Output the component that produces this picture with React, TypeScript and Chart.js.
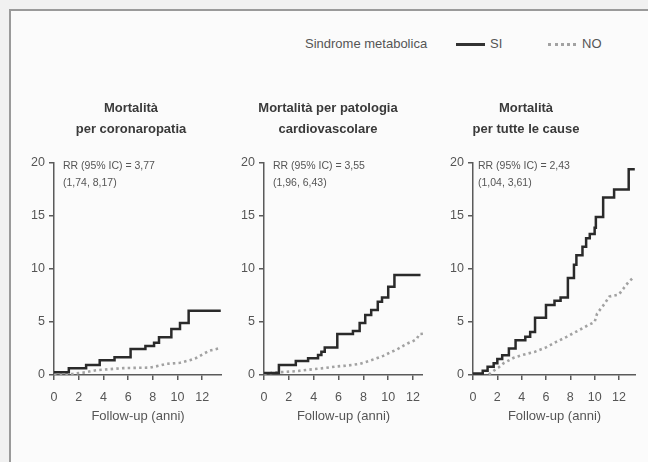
import React, { useEffect, useRef } from "react";
import { Chart, registerables } from "chart.js";

Chart.register(...registerables);

const FONT = '"Liberation Sans", Arial, Helvetica, sans-serif';

// ---- Data (years of follow-up, cumulative mortality %) ----
const coroSiT = [0, 1.2, 2.6, 3.7, 4.9, 6.2, 7.4, 8.1, 8.5, 9.5, 10.2, 10.9, 13.5];
const coroSiY = [0.25, 0.63, 0.94, 1.4, 1.67, 2.45, 2.74, 3.05, 3.55, 4.35, 4.9, 6.05, 6.05];
const coroNoT = [0, 1.5, 2.5, 3.4, 4.5, 5.6, 7.8, 8.6, 9.1, 10.2, 11.0, 11.5, 12.1, 12.6, 13.3];
const coroNoY = [0, 0.1, 0.25, 0.45, 0.55, 0.65, 0.7, 0.9, 1.05, 1.15, 1.4, 1.6, 2.0, 2.3, 2.5];

const cvSiT = [0, 1.2, 2.56, 3.55, 4.35, 4.62, 4.89, 5.9, 7.16, 7.7, 8.15, 8.63, 9.16, 9.5, 10.0, 10.5, 12.6];
const cvSiY = [0.2, 0.94, 1.32, 1.57, 1.89, 2.2, 2.6, 3.87, 4.15, 4.9, 5.66, 6.13, 6.9, 7.3, 8.33, 9.43, 9.43];
const cvNoT = [0, 1.0, 2.5, 3.6, 4.8, 5.8, 6.8, 7.7, 8.4, 9.0, 9.6, 10.1, 10.7, 11.2, 11.6, 12.0, 12.3, 12.5, 12.9];
const cvNoY = [0.1, 0.25, 0.35, 0.5, 0.65, 0.8, 0.9, 1.05, 1.3, 1.55, 1.8, 2.1, 2.4, 2.75, 3.0, 3.2, 3.4, 3.85, 3.9];

const allSiT = [0, 0.8, 1.2, 1.7, 2.0, 2.4, 2.95, 3.5, 4.3, 4.7, 5.1, 6.0, 6.7, 7.2, 7.8, 8.3, 8.5, 9.0, 9.3, 9.6, 10.0, 10.1, 10.7, 11.6, 12.8, 13.3];
const allSiY = [0.15, 0.4, 0.78, 1.1, 1.5, 1.87, 2.5, 3.28, 3.6, 4.06, 5.4, 6.6, 7.0, 7.3, 9.15, 10.4, 11.3, 12.1, 12.9, 13.3, 13.9, 14.9, 16.75, 17.5, 19.4, 19.4];
const allNoT = [1.3, 1.7, 2.1, 2.5, 3.3, 4.1, 5.1, 6.0, 6.8, 7.7, 8.5, 9.3, 10.0, 10.2, 10.8, 11.2, 12.0, 12.4, 12.8, 13.1];
const allNoY = [0.05, 0.4, 0.7, 1.1, 1.6, 1.9, 2.2, 2.6, 3.1, 3.6, 4.1, 4.6, 5.0, 5.8, 6.7, 7.4, 7.6, 8.2, 8.8, 9.1];

const panelTitles = [
  ["Mortalità", "per coronaropatia"],
  ["Mortalità per patologia", "cardiovascolare"],
  ["Mortalità", "per tutte le cause"],
];
const rrTexts = [
  ["RR (95% IC) = 3,77", "(1,74, 8,17)"],
  ["RR (95% IC) = 3,55", "(1,96, 6,43)"],
  ["RR (95% IC) = 2,43", "(1,04, 3,61)"],
];
const xMaxes = [13.6, 12.8, 13.4];
const xTickStep = 2;
const yMin = 0;
const yMax = 20;
const yTickStep = 5;
const xAxisLabel = "Follow-up (anni)";
const legendTitle = "Sindrome metabolica";
const seriesNames = ["SI", "NO"];

const pts = (t: number[], y: number[]) => t.map((v, i) => ({ x: v, y: y[i] }));

type PanelProps = {
  left: number;
  top: number;
  width: number;
  height: number;
  yWidth: number;
  xMax: number;
  title: string[];
  titleCenter: number;
  rr: string[];
  rrOffset: number;
  siT: number[];
  siY: number[];
  noT: number[];
  noY: number[];
};

function Panel(p: PanelProps) {
  const ref = useRef<HTMLCanvasElement | null>(null);
  useEffect(() => {
    if (!ref.current) return;
    const axisColor = "#5a5a5a";
    const tickColor = "#555";
    const textPlugin = {
      id: "panelTexts",
      afterDatasetsDraw(chart: any) {
        const { ctx, chartArea } = chart;
        ctx.save();
        // panel title
        ctx.font = `bold 13px ${FONT}`;
        ctx.fillStyle = "#3a3a3a";
        ctx.textBaseline = "middle";
        ctx.textAlign = "center";
        p.title.forEach((line, i) => {
          ctx.fillText(line, p.titleCenter - p.left, 18.5 + i * 21);
        });
        // RR annotation
        ctx.font = `10.5px ${FONT}`;
        ctx.fillStyle = "#555";
        ctx.textAlign = "left";
        p.rr.forEach((line, i) => {
          ctx.fillText(line, chartArea.left + p.rrOffset, chartArea.top + 3.5 + i * 16.7);
        });
        ctx.restore();
      },
    };
    const chart = new Chart(ref.current, {
      type: "line",
      data: {
        datasets: [
          {
            label: seriesNames[0],
            data: pts(p.siT, p.siY),
            stepped: "before",
            borderColor: "#2a2a2a",
            borderWidth: 2.5,
            pointRadius: 0,
            fill: false,
          },
          {
            label: seriesNames[1],
            data: pts(p.noT, p.noY),
            borderColor: "#a2a2a2",
            borderWidth: 2.6,
            borderDash: [2.5, 3.2],
            pointRadius: 0,
            fill: false,
          },
        ],
      },
      options: {
        responsive: false,
        animation: false,
        layout: { padding: { left: 0, right: 0, top: 73, bottom: 0 } },
        plugins: {
          legend: { display: false },
          tooltip: { enabled: false },
          title: { display: false },
        },
        scales: {
          x: {
            type: "linear",
            min: 0,
            max: p.xMax,
            afterFit: (s: any) => {
              s.height = 50;
              s.paddingLeft = 0;
              s.paddingRight = 0;
            },
            ticks: {
              stepSize: xTickStep,
              includeBounds: false,
              color: tickColor,
              font: { family: FONT, size: 12.5 },
              padding: 10,
            },
            grid: { drawOnChartArea: false, tickLength: 5, color: axisColor, lineWidth: 1.5 },
            border: { color: axisColor, width: 1.5 },
            title: {
              display: true,
              text: xAxisLabel,
              color: tickColor,
              font: { family: FONT, size: 13 },
              padding: { top: 0, bottom: 1 },
            },
          },
          y: {
            min: yMin,
            max: yMax,
            afterFit: (s: any) => {
              s.width = p.yWidth;
            },
            ticks: {
              stepSize: yTickStep,
              color: tickColor,
              font: { family: FONT, size: 12.5 },
              padding: 4,
            },
            grid: { drawOnChartArea: false, tickLength: 5, color: axisColor, lineWidth: 1.5 },
            border: { color: axisColor, width: 1.5 },
          },
        },
      } as any,
      plugins: [textPlugin],
    });
    return () => chart.destroy();
  }, []);
  return (
    <canvas
      ref={ref}
      width={p.width}
      height={p.height}
      style={{ position: "absolute", left: p.left, top: p.top, width: p.width, height: p.height }}
    />
  );
}

export default function App() {
  const textStyle: React.CSSProperties = {
    position: "absolute",
    fontFamily: FONT,
    fontSize: 13,
    color: "#555",
    lineHeight: "16px",
    top: 36,
    whiteSpace: "nowrap",
  };
  return (
    <div
      style={{
        position: "fixed",
        left: 0,
        top: 0,
        width: 648,
        height: 462,
        background: "#f1f1f1",
        overflow: "hidden",
      }}
    >
      <div
        style={{
          position: "absolute",
          left: 9,
          top: 9,
          width: 660,
          height: 470,
          borderTop: "2px solid #9a9a9a",
          borderLeft: "2px solid #9a9a9a",
          background: "#fbfbfb",
        }}
      />
      <div style={{ ...textStyle, left: 305 }}>{legendTitle}</div>
      <div style={{ position: "absolute", left: 456, top: 43, width: 29, borderTop: "3px solid #333" }} />
      <div style={{ ...textStyle, left: 490 }}>{seriesNames[0]}</div>
      <div style={{ position: "absolute", left: 548, top: 43, width: 28, borderTop: "3px dotted #a2a2a2" }} />
      <div style={{ ...textStyle, left: 582 }}>{seriesNames[1]}</div>

      <Panel left={14} top={90} width={208} height={335} yWidth={40} xMax={xMaxes[0]}
        title={panelTitles[0]} titleCenter={131} rr={rrTexts[0]} rrOffset={9}
        siT={coroSiT} siY={coroSiY} noT={coroNoT} noY={coroNoY} />
      <Panel left={224} top={90} width={199} height={335} yWidth={40} xMax={xMaxes[1]}
        title={panelTitles[1]} titleCenter={328} rr={rrTexts[1]} rrOffset={9}
        siT={cvSiT} siY={cvSiY} noT={cvNoT} noY={cvNoY} />
      <Panel left={416} top={90} width={220} height={335} yWidth={57} xMax={xMaxes[2]}
        title={panelTitles[2]} titleCenter={526} rr={rrTexts[2]} rrOffset={5}
        siT={allSiT} siY={allSiY} noT={allNoT} noY={allNoY} />
    </div>
  );
}
